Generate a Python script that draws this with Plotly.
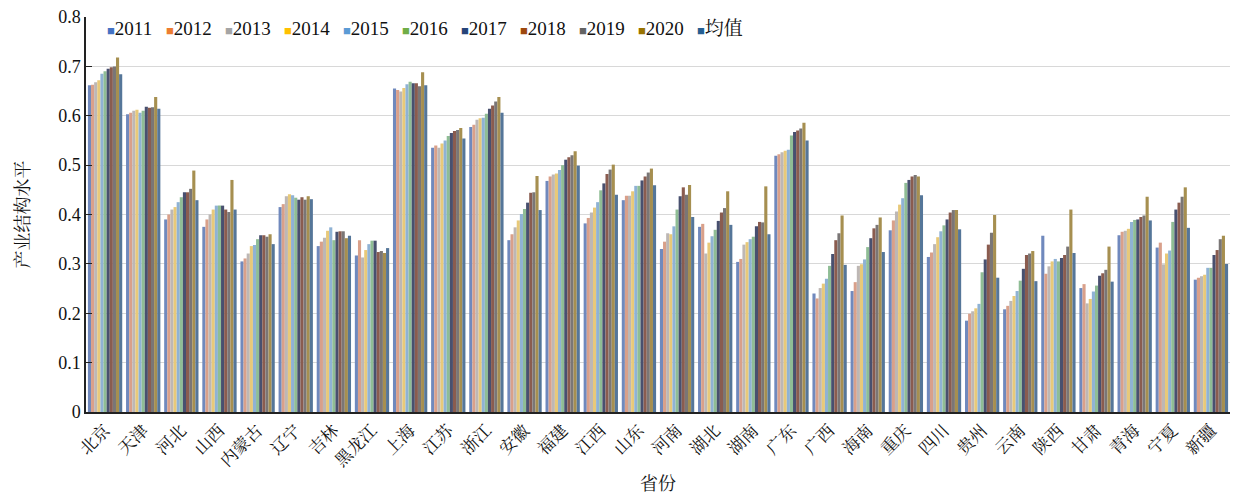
import plotly.graph_objects as go

provinces = ["北京", "天津", "河北", "山西", "内蒙古", "辽宁", "吉林", "黑龙江", "上海", "江苏",
             "浙江", "安徽", "福建", "江西", "山东", "河南", "湖北", "湖南", "广东", "广西",
             "海南", "重庆", "四川", "贵州", "云南", "陕西", "甘肃", "青海", "宁夏", "新疆"]

series_names = ["2011", "2012", "2013", "2014", "2015", "2016", "2017", "2018", "2019", "2020", "均值"]

# one row per province: 2011..2020 followed by the mean
v_beijing = [0.662, 0.663, 0.668, 0.672, 0.685, 0.690, 0.695, 0.698, 0.700, 0.718, 0.684]
v_tianjin = [0.603, 0.606, 0.610, 0.612, 0.606, 0.610, 0.618, 0.616, 0.617, 0.638, 0.614]
v_hebei = [0.390, 0.400, 0.410, 0.415, 0.425, 0.435, 0.445, 0.445, 0.452, 0.489, 0.429]
v_shanxi = [0.375, 0.390, 0.400, 0.410, 0.418, 0.418, 0.418, 0.410, 0.405, 0.470, 0.410]
v_neimenggu = [0.305, 0.311, 0.321, 0.336, 0.338, 0.350, 0.358, 0.358, 0.355, 0.360, 0.340]
v_liaoning = [0.415, 0.421, 0.437, 0.441, 0.439, 0.434, 0.430, 0.435, 0.430, 0.437, 0.431]
v_jilin = [0.336, 0.345, 0.353, 0.367, 0.374, 0.348, 0.365, 0.366, 0.366, 0.352, 0.357]
v_heilongjiang = [0.317, 0.348, 0.313, 0.328, 0.340, 0.347, 0.347, 0.324, 0.326, 0.322, 0.332]
v_shanghai = [0.655, 0.652, 0.649, 0.656, 0.664, 0.669, 0.666, 0.666, 0.660, 0.688, 0.662]
v_jiangsu = [0.535, 0.540, 0.535, 0.544, 0.550, 0.559, 0.565, 0.569, 0.571, 0.575, 0.554]
v_zhejiang = [0.577, 0.582, 0.592, 0.595, 0.596, 0.604, 0.614, 0.621, 0.629, 0.638, 0.606]
v_anhui = [0.348, 0.360, 0.374, 0.388, 0.401, 0.411, 0.424, 0.444, 0.445, 0.478, 0.409]
v_fujian = [0.468, 0.477, 0.481, 0.483, 0.490, 0.500, 0.511, 0.516, 0.520, 0.528, 0.499]
v_jiangxi = [0.382, 0.393, 0.404, 0.414, 0.425, 0.449, 0.463, 0.482, 0.491, 0.501, 0.440]
v_shandong = [0.429, 0.438, 0.438, 0.447, 0.458, 0.458, 0.469, 0.477, 0.485, 0.493, 0.459]
v_henan = [0.330, 0.345, 0.362, 0.360, 0.376, 0.410, 0.437, 0.455, 0.440, 0.460, 0.395]
v_hubei = [0.375, 0.381, 0.321, 0.343, 0.356, 0.369, 0.387, 0.404, 0.413, 0.447, 0.379]
v_hunan = [0.304, 0.310, 0.339, 0.344, 0.350, 0.355, 0.376, 0.385, 0.384, 0.457, 0.360]
v_guangdong = [0.519, 0.522, 0.526, 0.529, 0.531, 0.560, 0.567, 0.570, 0.574, 0.586, 0.550]
v_guangxi = [0.240, 0.230, 0.251, 0.260, 0.270, 0.296, 0.320, 0.348, 0.362, 0.398, 0.298]
v_hainan = [0.245, 0.263, 0.296, 0.299, 0.309, 0.334, 0.352, 0.372, 0.379, 0.394, 0.324]
v_chongqing = [0.368, 0.388, 0.406, 0.420, 0.433, 0.464, 0.470, 0.477, 0.480, 0.477, 0.439]
v_sichuan = [0.314, 0.323, 0.340, 0.354, 0.366, 0.378, 0.390, 0.404, 0.409, 0.409, 0.370]
v_guizhou = [0.185, 0.199, 0.204, 0.210, 0.219, 0.283, 0.309, 0.339, 0.363, 0.399, 0.272]
v_yunnan = [0.208, 0.215, 0.225, 0.235, 0.245, 0.266, 0.290, 0.318, 0.321, 0.326, 0.265]
v_shaanxi = [0.357, 0.280, 0.295, 0.305, 0.310, 0.305, 0.312, 0.318, 0.335, 0.410, 0.322]
v_gansu = [0.251, 0.259, 0.220, 0.229, 0.244, 0.256, 0.276, 0.281, 0.288, 0.335, 0.264]
v_qinghai = [0.358, 0.365, 0.367, 0.371, 0.385, 0.389, 0.390, 0.395, 0.398, 0.436, 0.388]
v_ningxia = [0.333, 0.343, 0.299, 0.321, 0.327, 0.385, 0.410, 0.424, 0.436, 0.455, 0.373]
v_xinjiang = [0.268, 0.272, 0.275, 0.278, 0.292, 0.292, 0.318, 0.328, 0.350, 0.357, 0.300]

rows = [v_beijing, v_tianjin, v_hebei, v_shanxi, v_neimenggu, v_liaoning, v_jilin, v_heilongjiang,
        v_shanghai, v_jiangsu, v_zhejiang, v_anhui, v_fujian, v_jiangxi, v_shandong, v_henan,
        v_hubei, v_hunan, v_guangdong, v_guangxi, v_hainan, v_chongqing, v_sichuan, v_guizhou,
        v_yunnan, v_shaanxi, v_gansu, v_qinghai, v_ningxia, v_xinjiang]

y_ticks = [0, 0.1, 0.2, 0.3, 0.4, 0.5, 0.6, 0.7, 0.8]
y_tick_text = ["0", "0.1", "0.2", "0.3", "0.4", "0.5", "0.6", "0.7", "0.8"]

colors = ["#4472C4", "#ED7D31", "#A5A5A5", "#FFC000", "#5B9BD5", "#70AD47",
          "#264478", "#9E480E", "#636363", "#997300", "#255E91"]
bar_colors = ["#7089bd", "#d9a08a", "#bdb7b5", "#e8c979", "#8fb2d4", "#8fbd95",
              "#48506f", "#8a5c4f", "#7a7676", "#a68f50", "#557699"]

SERIF = "'Liberation Serif', 'Times New Roman', 'Noto Serif CJK SC', 'Noto Sans CJK SC', serif"

W, H = 1233, 498
ML, MR, MT, MB = 86, 3, 17, 86
plot_w = W - ML - MR

fig = go.Figure()
for k, name in enumerate(series_names):
    fig.add_trace(go.Bar(
        name=name,
        x=provinces,
        y=[r[k] for r in rows],
        marker=dict(color=bar_colors[k], line=dict(width=0)),
        showlegend=False,
    ))

# legend row: one coloured square + label per series, evenly spaced along the top
legend_left_px, legend_step_px = 105, 59
for i, (c, n) in enumerate(zip(colors, series_names)):
    fig.add_annotation(
        text=f"<span style='color:{c};font-size:13px'>■</span>{n}",
        xref="paper", yref="paper",
        x=(legend_left_px + i * legend_step_px - ML) / plot_w, y=0.972,
        xanchor="left", yanchor="middle", showarrow=False,
        font=dict(family=SERIF, size=19, color="#111"),
    )

fig.update_layout(
    width=W, height=H,
    margin=dict(l=ML, r=MR, t=MT, b=MB),
    paper_bgcolor="white", plot_bgcolor="white",
    barmode="group", bargap=0.1, bargroupgap=0,
    font=dict(family=SERIF, color="#111"),
)
fig.update_xaxes(
    tickangle=-45, tickfont=dict(family=SERIF, size=17, color="#111"),
    showline=True, linecolor="#222", linewidth=1.5, ticks="",
    title=dict(text="省份", font=dict(family=SERIF, size=18), standoff=8),
)
fig.update_yaxes(
    range=[0, 0.8], tickvals=y_ticks, ticktext=y_tick_text,
    tickfont=dict(family=SERIF, size=18, color="#111"),
    showline=True, linecolor="#222", linewidth=1.5,
    ticks="inside", ticklen=6, tickcolor="#222",
    showgrid=True, gridcolor="#d8d8d8", gridwidth=1, zeroline=False,
    title=dict(text="产业结构水平", font=dict(family=SERIF, size=18), standoff=24),
)

fig.write_html("out.html")
